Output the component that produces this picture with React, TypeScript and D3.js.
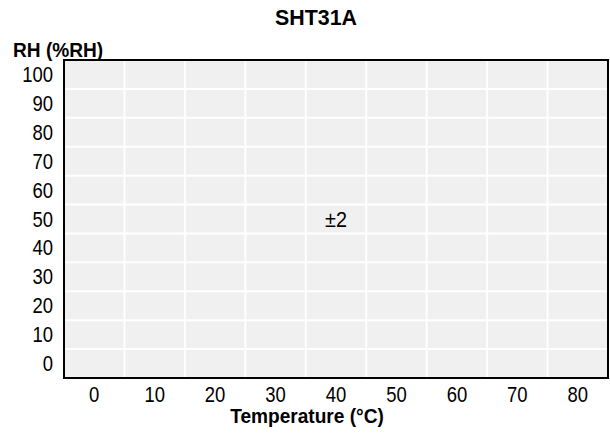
import { useMemo } from 'react';
import * as d3 from 'd3';

const TEMPS = [0, 10, 20, 30, 40, 50, 60, 70, 80];
const RHS = [0, 10, 20, 30, 40, 50, 60, 70, 80, 90, 100];
const LABELS = [{ temp: 40, rh: 50, text: '±2' }];
const TITLE = 'SHT31A';
const X_TITLE = 'Temperature (°C)';
const Y_TITLE = 'RH (%RH)';

const W = 610;
const H = 441;
const margin = { top: 60, right: 2, bottom: 63, left: 64 };
const FONT = '"Liberation Sans", Arial, sans-serif';

// the reference uses a condensed face; squeeze Liberation Sans horizontally
function T({ x, y, sx, anchor = 'start', bold = false, size, central = false, children }: any) {
  return (
    <text transform={`translate(${x},${y}) scale(${sx},1)`} textAnchor={anchor}
      dominantBaseline={central ? 'central' : undefined} fontWeight={bold ? 'bold' : undefined}
      fontSize={size}>{children}</text>
  );
}

export default function App() {
  const innerW = W - margin.left - margin.right;
  const innerH = H - margin.top - margin.bottom;

  const x = useMemo(() => d3.scaleBand<number>().domain(TEMPS).range([0, innerW]), [innerW]);
  const y = useMemo(() => d3.scaleBand<number>().domain([...RHS].reverse()).range([0, innerH]), [innerH]);

  const cells = TEMPS.flatMap(t => RHS.map(r => ({ t, r })));

  return (
    <svg width={W} height={H} style={{ position: 'absolute', left: 0, top: 0, fontFamily: FONT }}>
      <rect width={W} height={H} fill="#fff" />
      <T x={316} y={25} anchor="middle" bold size={23} sx={0.93}>{TITLE}</T>
      <T x={13} y={57} bold size={21} sx={0.91}>{Y_TITLE}</T>
      <g transform={`translate(${margin.left},${margin.top})`}>
        {cells.map(c => (
          <rect key={`${c.t}-${c.r}`} x={x(c.t)} y={y(c.r)} width={x.bandwidth()} height={y.bandwidth()} fill="#f0f0f0" />
        ))}
        {TEMPS.slice(1).map(t => (
          <line key={`v${t}`} x1={x(t)} x2={x(t)} y1={0} y2={innerH} stroke="#fff" strokeWidth={2} />
        ))}
        {RHS.slice(0, -1).map(r => (
          <line key={`h${r}`} x1={0} x2={innerW} y1={y(r)} y2={y(r)} stroke="#fff" strokeWidth={2} />
        ))}
        <rect x={0} y={0} width={innerW} height={innerH} fill="none" stroke="#000" strokeWidth={2} />
        {LABELS.map(l => (
          <T key={l.text} x={(x(l.temp) ?? 0) + x.bandwidth() / 2} y={(y(l.rh) ?? 0) + y.bandwidth() / 2}
            anchor="middle" central size={22} sx={0.9}>{l.text}</T>
        ))}
        {RHS.map(r => (
          <T key={`yt${r}`} x={-11} y={(y(r) ?? 0) + y.bandwidth() / 2} anchor="end" central size={22} sx={0.84}>{r}</T>
        ))}
        {TEMPS.map(t => (
          <T key={`xt${t}`} x={(x(t) ?? 0) + x.bandwidth() / 2} y={innerH + 24} anchor="middle" size={22} sx={0.84}>{t}</T>
        ))}
      </g>
      <T x={307} y={423} anchor="middle" bold size={21} sx={0.91}>{X_TITLE}</T>
    </svg>
  );
}
